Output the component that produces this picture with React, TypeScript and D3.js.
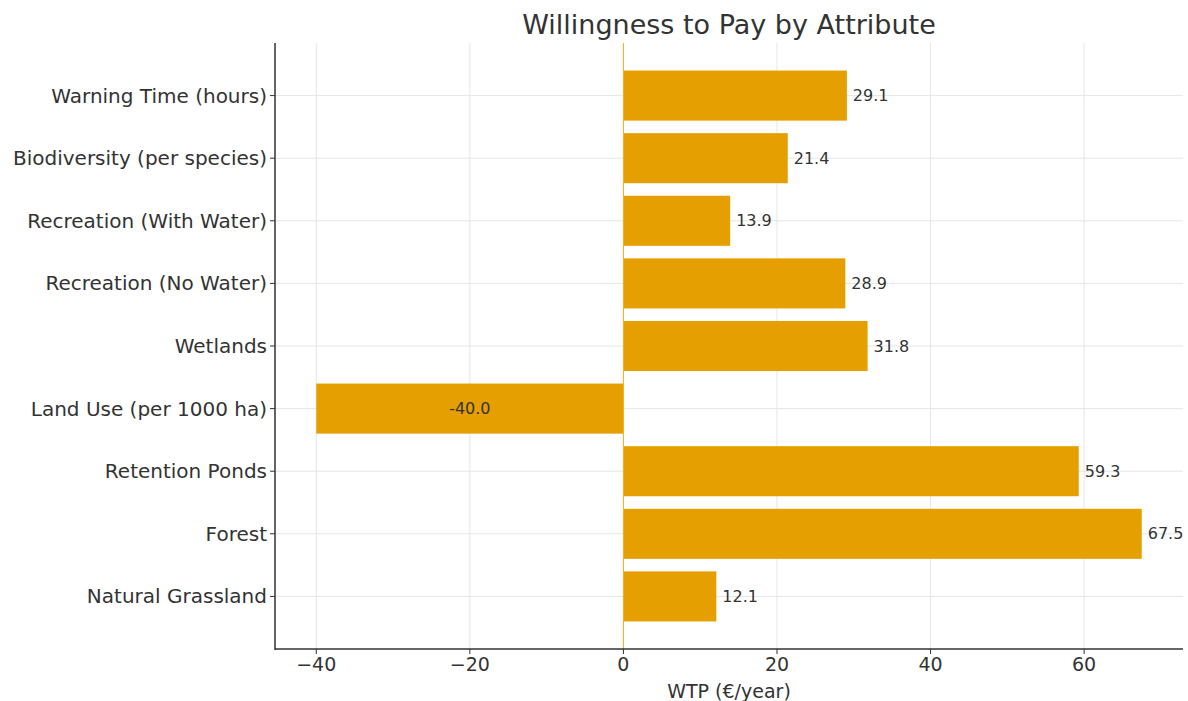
import React from "react";
import * as d3 from "d3";

const categories = [
  "Warning Time (hours)",
  "Biodiversity (per species)",
  "Recreation (With Water)",
  "Recreation (No Water)",
  "Wetlands",
  "Land Use (per 1000 ha)",
  "Retention Ponds",
  "Forest",
  "Natural Grassland",
];
const values = [29.1, 21.4, 13.9, 28.9, 31.8, -40.0, 59.3, 67.5, 12.1];
const xTicks = [-40, -20, 0, 20, 40, 60];

const W = 1188, H = 701;
const left = 275, right = 1183, top = 43, bottom = 649;
const font = "DejaVu Sans, sans-serif";
const barColor = "#E69F00";

export default function App() {
  const x = d3.scaleLinear().domain([-45.375, 72.875]).range([left, right]);
  const y = d3.scaleLinear().domain([-0.84, 8.84]).range([top, bottom]);
  const barH = y(0.4) - y(-0.4);
  return (
    <svg width={W} height={H} style={{ position: "absolute", left: 0, top: 0, background: "#fff" }}>
      <rect x={0} y={0} width={W} height={H} fill="#fff" />
      {xTicks.map((t) => (
        <line key={"gx" + t} x1={x(t)} x2={x(t)} y1={top} y2={bottom} stroke="#e6e6e6" strokeWidth={1} />
      ))}
      {categories.map((c, i) => (
        <line key={"gy" + i} x1={left} x2={right} y1={y(i)} y2={y(i)} stroke="#e6e6e6" strokeWidth={1} />
      ))}
      {values.map((v, i) => (
        <rect
          key={"b" + i}
          x={Math.min(x(0), x(v))}
          y={y(i) - barH / 2}
          width={Math.abs(x(v) - x(0))}
          height={barH}
          fill={barColor}
        />
      ))}
      <line x1={x(0)} x2={x(0)} y1={top} y2={bottom} stroke="#F0B020" strokeWidth={1} />
      {values.map((v, i) => (
        <text
          key={"l" + i}
          x={v >= 0 ? x(v) + 6 : x(v / 2)}
          y={y(i)}
          dy="0.35em"
          textAnchor={v >= 0 ? "start" : "middle"}
          fontFamily={font}
          fontSize={16}
          fill="#333"
        >
          {v.toFixed(1)}
        </text>
      ))}
      <line x1={left} x2={left} y1={top} y2={bottom + 1} stroke="#333" strokeWidth={1.5} />
      <line x1={left} x2={right} y1={bottom} y2={bottom} stroke="#333" strokeWidth={1.5} />
      {xTicks.map((t) => (
        <g key={"xt" + t}>
          <line x1={x(t)} x2={x(t)} y1={bottom} y2={bottom + 5} stroke="#333" strokeWidth={1} />
          <text x={x(t)} y={664} dy="0.35em" textAnchor="middle" fontFamily={font} fontSize={19} fill="#333">
            {t < 0 ? "\u2212" + Math.abs(t) : String(t)}
          </text>
        </g>
      ))}
      {categories.map((c, i) => (
        <g key={"yt" + i}>
          <line x1={left - 5} x2={left} y1={y(i)} y2={y(i)} stroke="#333" strokeWidth={1} />
          <text x={left - 8} y={y(i)} dy="0.35em" textAnchor="end" fontFamily={font} fontSize={20} fill="#333">
            {c}
          </text>
        </g>
      ))}
      <text x={(left + right) / 2} y={691} dy="0.35em" textAnchor="middle" fontFamily={font} fontSize={19} fill="#333">
        WTP (€/year)
      </text>
      <text x={(left + right) / 2} y={25} dy="0.35em" textAnchor="middle" fontFamily={font} fontSize={27} fill="#333">
        Willingness to Pay by Attribute
      </text>
    </svg>
  );
}
